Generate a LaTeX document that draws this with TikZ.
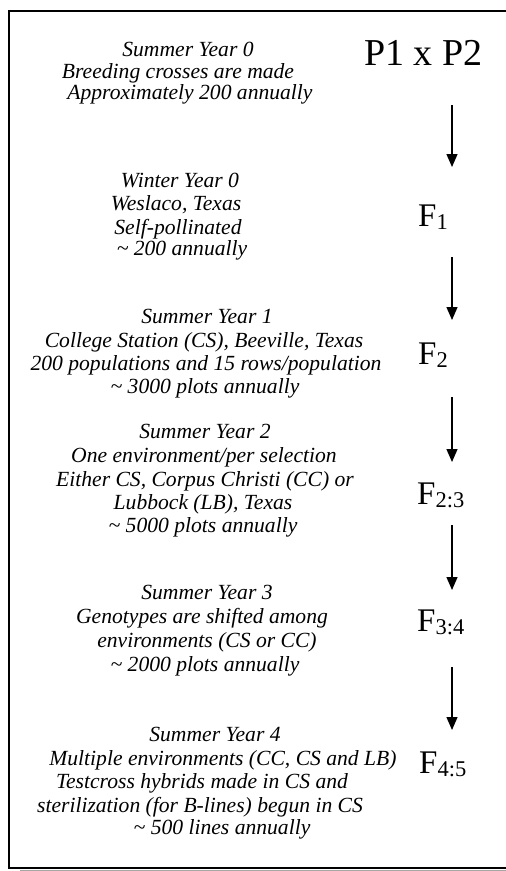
\documentclass[tikz,border=0pt]{standalone}
\usepackage{fontspec}
\setmainfont{Liberation Serif}
\usetikzlibrary{arrows.meta}
\begin{document}
\begin{tikzpicture}[x=1pt,y=-1pt,
  txt/.style={font=\fontsize{21.6}{24}\selectfont\itshape, anchor=base, inner sep=0pt},
  gen/.style={font=\fontsize{33}{36}\selectfont, anchor=base west, inner sep=0pt},
  arr/.style={line width=1.3pt, -{Triangle[width=11pt,length=13pt]}},
  frame/.style={line width=2.2pt, line join=miter}]
\newcommand\subs[1]{\raisebox{-3.5pt}{\fontsize{22.5}{22}\selectfont #1}}
\useasboundingbox (0,0) rectangle (506,871);
\clip (0,0) rectangle (506,871);
\fill[white] (0,0) rectangle (506,871);
\draw[gray!70, line width=1.5pt] (20,870.5) -- (520,870.5);
\draw[frame] (520,11) -- (9,11) -- (9,868) -- (520,868);
% block 1
\node[txt] (s0a) at (188,56) {Summer Year 0};
\node[txt] (s0b) at (178,78) {Breeding crosses are made};
\node[txt] (s0c) at (190,99) {Approximately 200 annually};
% block 2
\node[txt] (s1a) at (180,187) {Winter Year 0};
\node[txt] (s1b) at (176,210) {Weslaco, Texas};
\node[txt] (s1c) at (178,234) {Self-pollinated};
\node[txt] (s1d) at (182,255) {\textasciitilde{} 200 annually};
% block 3
\node[txt] (s2a) at (207,323) {Summer Year 1};
\node[txt] (s2b) at (204,347) {College Station (CS), Beeville, Texas};
\node[txt] (s2c) at (206,370) {200 populations and 15 rows/population};
\node[txt] (s2d) at (205,393) {\textasciitilde{} 3000 plots annually};
% block 4
\node[txt] (s3a) at (205,438) {Summer Year 2};
\node[txt] (s3b) at (204,462) {One environment/per selection};
\node[txt] (s3c) at (205,486) {Either CS, Corpus Christi (CC) or};
\node[txt] (s3d) at (203,509) {Lubbock (LB), Texas};
\node[txt] (s3e) at (203,532) {\textasciitilde{} 5000 plots annually};
% block 5
\node[txt] (s4a) at (207,599) {Summer Year 3};
\node[txt] (s4b) at (202,623) {Genotypes are shifted among};
\node[txt] (s4c) at (207,647) {environments (CS or CC)};
\node[txt] (s4d) at (205,671) {\textasciitilde{} 2000 plots annually};
% block 6
\node[txt] (s5a) at (215,741) {Summer Year 4};
\node[txt] (s5b) at (223,765) {Multiple environments (CC, CS and LB)};
\node[txt] (s5c) at (202,788) {Testcross hybrids made in CS and};
\node[txt] (s5d) at (200,812) {sterilization (for B-lines) begun in CS};
\node[txt] (s5e) at (222,834) {\textasciitilde{} 500 lines annually};
% generations
\node[gen, font=\fontsize{38}{40}\selectfont] (g0) at (364,65) {P1 x P2};
\node[gen] (g1) at (418,226) {F\subs{1}};
\node[gen] (g2) at (418,364) {F\subs{2}};
\node[gen] (g3) at (417,504) {F\subs{2:3}};
\node[gen] (g4) at (417,631) {F\subs{3:4}};
\node[gen] (g5) at (419,773) {F\subs{4:5}};
% arrows
\coordinate (a1s) at (452,105); \coordinate (a1e) at (452,167);
\coordinate (a2s) at (452,257); \coordinate (a2e) at (452,320);
\coordinate (a3s) at (452,397); \coordinate (a3e) at (452,462);
\coordinate (a4s) at (452,525); \coordinate (a4e) at (452,590);
\coordinate (a5s) at (452,667); \coordinate (a5e) at (452,730);
\draw[arr] (a1s) -- (a1e);
\draw[arr] (a2s) -- (a2e);
\draw[arr] (a3s) -- (a3e);
\draw[arr] (a4s) -- (a4e);
\draw[arr] (a5s) -- (a5e);
\end{tikzpicture}
\end{document}
